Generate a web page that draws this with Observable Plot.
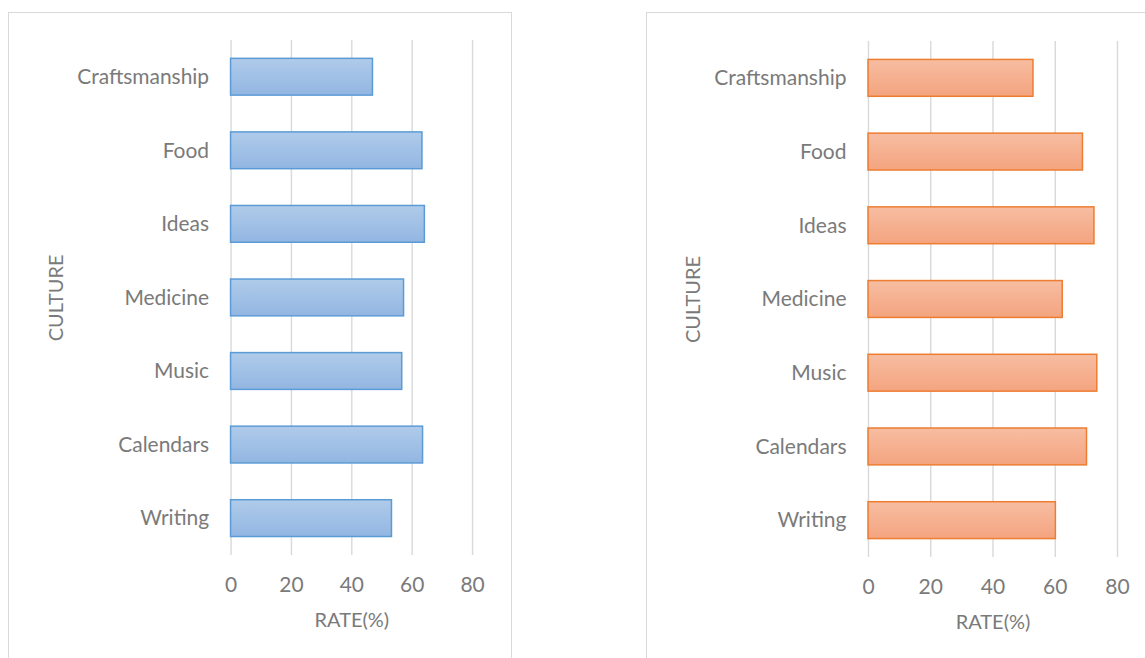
<!DOCTYPE html>
<html>
<head>
<meta charset="utf-8">
<script src="https://cdn.jsdelivr.net/npm/d3@7"></script>
<script src="https://cdn.jsdelivr.net/npm/@observablehq/plot@0.6"></script>
<style>
  html, body { margin: 0; padding: 0; background: #fff; overflow: hidden; }
  #wrap { position: relative; width: 1145px; height: 658px; }
  .panel { position: absolute; border: 1px solid #d9d9d9; box-sizing: border-box; background: #fff; }
  .panel svg { display: block; }
</style>
</head>
<body>
<div id="wrap">
  <div class="panel" id="left" style="left:8px; top:12px; width:504px; height:660px;"></div>
  <div class="panel" id="right" style="left:646px; top:12px; width:520px; height:660px;"></div>
</div>
<script>
const categories = ["Craftsmanship", "Food", "Ideas", "Medicine", "Music", "Calendars", "Writing"];
const leftValues = [47, 63.4, 64.2, 57.3, 56.7, 63.6, 53.3];
const rightValues = [53, 68.9, 72.6, 62.4, 73.5, 70.2, 60.2];
const xTicks = [0, 20, 40, 60, 80];
const xLabel = "RATE(%)";
const yLabel = "CULTURE";

const textColor = "#7a7a7a";
const fontFamily = "Lato, 'Open Sans', sans-serif";

function gradientDefs(id, top, bottom) {
  return () => {
    const defs = d3.create("svg:defs");
    const g = defs.append("linearGradient").attr("id", id)
      .attr("x1", 0).attr("y1", 0).attr("x2", 0).attr("y2", 1);
    g.append("stop").attr("offset", "0%").attr("stop-color", top);
    g.append("stop").attr("offset", "100%").attr("stop-color", bottom);
    return defs.node();
  };
}

function makePanel(values, opts) {
  const data = categories.map((c, i) => ({category: c, value: values[i]}));
  return Plot.plot({
    width: opts.width,
    height: 646,
    marginLeft: opts.marginLeft,
    marginRight: opts.marginRight,
    marginTop: opts.marginTop,
    marginBottom: 646 - opts.marginTop - 516,
    style: {fontFamily, fontSize: "21px", color: textColor, background: "transparent", overflow: "visible"},
    x: {domain: [0, 80], ticks: xTicks, tickSize: 0, tickPadding: 22, label: null},
    y: {domain: categories, paddingInner: 0.5, paddingOuter: 0.25, round: false, tickSize: 0, tickPadding: 22, label: null},
    marks: [
      gradientDefs(opts.gradId, opts.top, opts.bottom),
      Plot.ruleX(xTicks, {stroke: "#d9d9d9", strokeWidth: 1.4}),
      Plot.barX(data, {
        x: "value", y: "category",
        fill: `url(#${opts.gradId})`,
        stroke: opts.stroke, strokeWidth: 1.5
      }),
      Plot.text([xLabel], {frameAnchor: "bottom", lineAnchor: "middle", dy: 65, fontSize: 20, fill: textColor}),
      Plot.text([yLabel], {frameAnchor: "left", textAnchor: "middle", lineAnchor: "middle", dx: opts.yLabelDx, rotate: -90, fontSize: 20, fill: textColor})
    ]
  });
}

document.getElementById("left").appendChild(makePanel(leftValues, {
  width: 503, marginLeft: 222, marginRight: 39, marginTop: 27,
  gradId: "gradBlue", top: "#b0cbea", bottom: "#92b6e2", stroke: "#5b9bd5", yLabelDx: -175
}));
document.getElementById("right").appendChild(makePanel(rightValues, {
  width: 510, marginLeft: 221, marginRight: 40, marginTop: 28,
  gradId: "gradOrange", top: "#f7bda2", bottom: "#f4a47f", stroke: "#ed7d31", yLabelDx: -175
}));
</script>
</body>
</html>
